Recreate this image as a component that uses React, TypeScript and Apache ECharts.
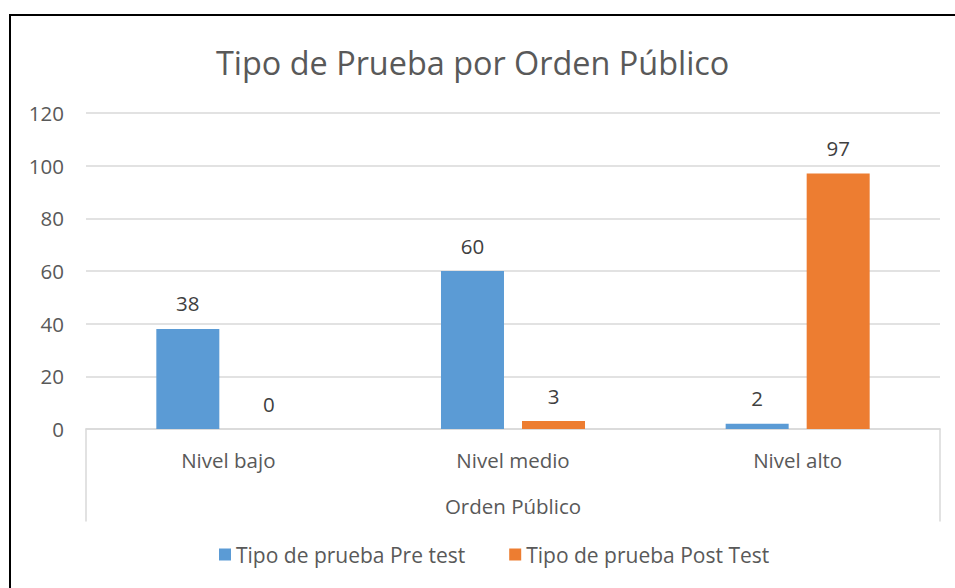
import React, { useEffect, useRef } from "react";
import * as echarts from "echarts";

const categories = ["Nivel bajo", "Nivel medio", "Nivel alto"];
const preTest = [38, 60, 2];
const postTest = [0, 3, 97];
const seriesNames = ["Tipo de prueba Pre test", "Tipo de prueba Post Test"];
const titleText = "Tipo de Prueba por Orden Público";
const axisName = "Orden Público";

const FONT = "'Open Sans', 'Noto Sans', sans-serif";
const FS = 20.5;

export default function App() {
  const ref = useRef<HTMLDivElement>(null);
  useEffect(() => {
    document.body.style.margin = "0";
    const chart = echarts.init(ref.current!, null, { renderer: "svg" });
    const label = {
      show: true,
      position: "top" as const,
      distance: 15,
      fontSize: FS,
      color: "#404040",
      fontFamily: FONT,
    };
    chart.setOption({
      animation: false,
      textStyle: { fontFamily: FONT },
      title: {
        text: titleText,
        left: 211,
        top: 41,
        textStyle: { fontSize: 32.4, fontWeight: "normal", color: "#595959", fontFamily: FONT },
      },
      legend: {
        bottom: 18,
        left: 214,
        itemWidth: 12,
        itemHeight: 12,
        itemGap: 44,
        icon: "rect",
        textStyle: { fontSize: 21, color: "#595959", fontFamily: FONT },
        data: seriesNames,
      },
      grid: [
        { left: 86, right: 15, top: 113, bottom: 159 },
        { left: 86, right: 15, top: 429, height: 92, show: false },
      ],
      xAxis: [
        {
          type: "category",
          data: categories,
          gridIndex: 0,
          axisLine: { lineStyle: { color: "#D9D9D9", width: 1.5 } },
          axisTick: { show: false },
          axisLabel: { fontSize: FS, color: "#595959", margin: 20, fontFamily: FONT },
          name: axisName,
          nameLocation: "middle",
          nameGap: 66,
          nameTextStyle: { fontSize: FS, color: "#595959", fontFamily: FONT },
        },
        { type: "category", data: categories, gridIndex: 1, show: false },
      ],
      yAxis: [
        {
          type: "value",
          min: 0,
          max: 120,
          interval: 20,
          gridIndex: 0,
          axisLine: { show: false },
          axisTick: { show: false },
          axisLabel: { fontSize: FS, color: "#595959", margin: 22, fontFamily: FONT },
          splitLine: { lineStyle: { color: "#D9D9D9", width: 1.5 } },
        },
        {
          type: "value",
          gridIndex: 1,
          position: "left",
          axisLine: { show: true, lineStyle: { color: "#D9D9D9", width: 1.5 } },
          axisTick: { show: false },
          axisLabel: { show: false },
          splitLine: { show: false },
        },
        {
          type: "value",
          gridIndex: 1,
          position: "right",
          axisLine: { show: true, lineStyle: { color: "#D9D9D9", width: 1.5 } },
          axisTick: { show: false },
          axisLabel: { show: false },
          splitLine: { show: false },
        },
      ],
      series: [
        {
          name: seriesNames[0],
          type: "bar",
          data: preTest,
          barWidth: 63,
          barGap: "28.6%",
          itemStyle: { color: "#5B9BD5" },
          label,
        },
        {
          name: seriesNames[1],
          type: "bar",
          data: postTest,
          barWidth: 63,
          barGap: "28.6%",
          itemStyle: { color: "#ED7D31" },
          label,
        },
      ],
      graphic: [
        {
          type: "rect",
          shape: { x: 10, y: 15, width: 1100, height: 1100 },
          style: { fill: "none", stroke: "#000", lineWidth: 2 },
          silent: true,
        },
      ],
    });
    return () => chart.dispose();
  }, []);
  return <div ref={ref} style={{ width: 955, height: 588 }} />;
}
